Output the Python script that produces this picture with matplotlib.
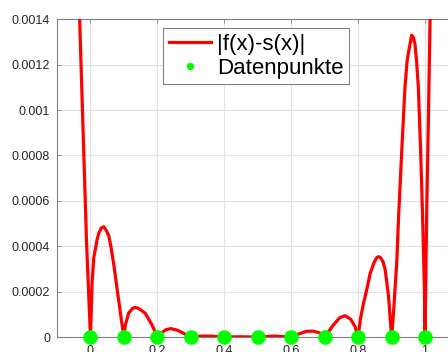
import matplotlib
matplotlib.use("Agg")
import matplotlib.pyplot as plt

plt.rcParams['font.family'] = ['Liberation Sans', 'DejaVu Sans']

# |f(x)-s(x)|
x_err = [-0.034, -0.012, -0.005, 0.0, 0.005, 0.010, 0.015, 0.020, 0.025, 0.032,
         0.040, 0.047, 0.055, 0.062, 0.070, 0.077, 0.085, 0.093, 0.1, 0.1045,
         0.114, 0.125, 0.132, 0.139, 0.148, 0.164, 0.184, 0.2, 0.21, 0.225,
         0.24, 0.26, 0.28, 0.3, 0.33, 0.36, 0.4, 0.45, 0.5, 0.55,
         0.6, 0.62, 0.645, 0.665, 0.685, 0.7, 0.71, 0.726, 0.745, 0.761,
         0.778, 0.791, 0.8, 0.807, 0.816, 0.826, 0.836, 0.848, 0.856, 0.861,
         0.867, 0.875, 0.881, 0.891, 0.9, 0.905, 0.9155, 0.9205, 0.930, 0.940,
         0.946, 0.950, 0.955, 0.960, 0.965, 0.970, 0.975, 0.980, 0.987, 0.993,
         0.998, 1.0, 1.005, 1.010, 1.016]
y_err = [0.00148, 0.00043, 0.00018, 0.0, 0.00024, 0.00035, 0.00039, 0.00043, 0.000457, 0.00048,
         0.000486, 0.00047, 0.000445, 0.00039, 0.000317, 0.00024, 0.000155, 0.00007, 0.0, 0.000053,
         0.000105, 0.000125, 0.00013, 0.000129, 0.000122, 0.000104, 0.000053, 0.0, 0.000015, 0.000032,
         0.000037, 0.00003, 0.000015, 0.0, 0.000004, 0.000004, 0.0, 0.000001, 0.0, 0.000004,
         0.0, 0.000012, 0.000025, 0.000026, 0.000018, 0.0, 0.00002, 0.000053, 0.000085, 0.000094,
         0.000078, 0.000045, 0.0, 0.00008, 0.000148, 0.00021, 0.00028, 0.00033, 0.00035, 0.000354,
         0.00035, 0.00033, 0.000295, 0.000178, 0.0, 0.00009, 0.00033, 0.000515, 0.00081, 0.0011,
         0.00121, 0.00125, 0.00129, 0.00133, 0.00132, 0.00129, 0.00121, 0.0011, 0.00081, 0.000515,
         0.00022, 0.0, 0.00055, 0.00096, 0.00148]

# Datenpunkte
x_data = [0.0, 0.1, 0.2, 0.3, 0.4, 0.5, 0.6, 0.7, 0.8, 0.9, 1.0]
y_data = [0.0] * len(x_data)

x_ticks = [0, 0.2, 0.4, 0.6, 0.8, 1]
x_labels = ['0', '0.2', '0.4', '0.6', '0.8', '1']
y_ticks = [0, 0.0002, 0.0004, 0.0006, 0.0008, 0.001, 0.0012, 0.0014]
y_labels = ['0', '0.0002', '0.0004', '0.0006', '0.0008', '0.001', '0.0012', '0.0014']

fig = plt.figure(figsize=(4.48, 3.52), dpi=100)
ax = fig.add_axes([57 / 448, 15 / 352, (458.5 - 57) / 448, (337 - 19.3) / 352])

ax.plot(x_err, y_err, color='#ff0000', lw=2.3, label='|f(x)-s(x)|', zorder=3,
        solid_joinstyle='round')
ax.plot(x_data, y_data, 'o', color='#00ff00', ms=9.5, mec='#00ff00',
        linestyle='none', label='Datenpunkte', clip_on=False, zorder=4)

ax.set_xlim(-0.1, 1.1)
ax.set_ylim(0, 0.0014)
ax.set_xticks(x_ticks)
ax.set_xticklabels(x_labels)
ax.set_yticks(y_ticks)
ax.set_yticklabels(y_labels)

ax.grid(True, color='#e3e3e3', lw=0.8)
ax.set_axisbelow(True)
for s in ax.spines.values():
    s.set_color('#808080')
    s.set_linewidth(0.8)
ax.tick_params(direction='in', length=3, width=0.6, color='#808080',
               labelsize=9, labelcolor='#262626', top=True, right=True, pad=5)
ax.tick_params(axis='x', pad=6)

leg = ax.legend(loc='upper left', bbox_to_anchor=(163 / 448, 1 - 28 / 352),
                bbox_transform=fig.transFigure, fontsize=16, fancybox=False,
                framealpha=1, edgecolor='#808080', markerscale=0.45,
                handlelength=1.9, handletextpad=0.3, borderpad=0.25,
                labelspacing=0.15, borderaxespad=0)
leg.get_frame().set_linewidth(0.8)

fig.savefig('out.png', dpi=100)
